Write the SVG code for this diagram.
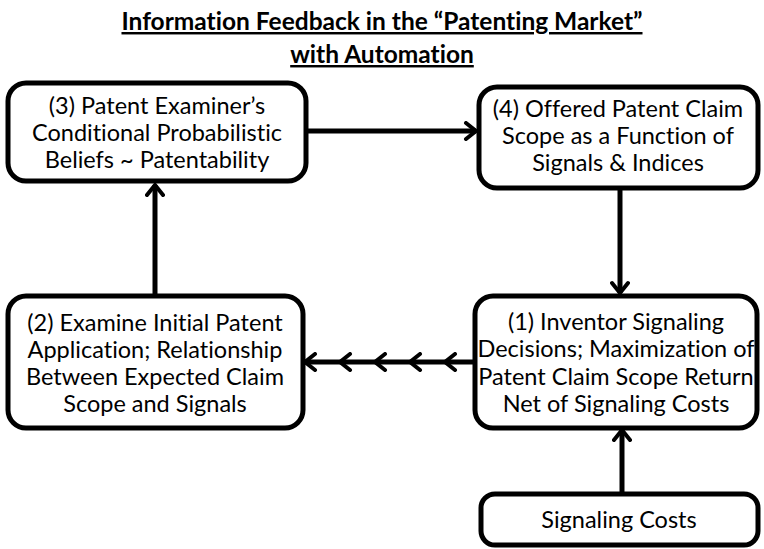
<svg xmlns="http://www.w3.org/2000/svg" width="764" height="549" viewBox="0 0 764 549">
<style>
.box{fill:#fff;stroke:#000;stroke-width:5}
.t{font-family:Lato,"Open Sans","Liberation Sans",sans-serif;font-size:23.5px;fill:#000;text-anchor:middle;font-variant-ligatures:none}
.title{font-family:Lato,"Open Sans","Liberation Sans",sans-serif;font-size:24.5px;font-weight:bold;fill:#000;text-anchor:middle;text-decoration:underline;font-variant-ligatures:none}
.c{fill:none;stroke:#000;stroke-width:5}
</style>
<defs>
<marker id="ah" viewBox="-14 -10 16 20" refX="0" refY="0" markerWidth="16" markerHeight="20" markerUnits="userSpaceOnUse" orient="auto">
<path d="M-10,-8 L0,0 L-10,8" fill="none" stroke="#000" stroke-width="4" stroke-linecap="round"/>
</marker>
</defs>
<rect width="764" height="549" fill="#fff"/>
<g id="title">
<text class="title" x="382" y="30">Information Feedback in the “Patenting Market”</text>
<text class="title" x="382" y="63">with Automation</text>
</g>
<g id="connectors">
<line class="c" x1="307" y1="131" x2="476" y2="131" marker-end="url(#ah)"/>
<line class="c" x1="620" y1="190" x2="620" y2="293" marker-end="url(#ah)"/>
<polyline class="c" points="474,362 445,362 410,362 375,362 340,362 305,362" marker-mid="url(#ah)" marker-end="url(#ah)"/>
<line class="c" x1="155" y1="295" x2="155" y2="185" marker-end="url(#ah)"/>
<line class="c" x1="622" y1="493" x2="622" y2="430" marker-end="url(#ah)"/>
</g>
<g id="n3">
<rect class="box" x="8" y="83" width="298" height="98" rx="18"/>
<text class="t" x="157" y="114">(3) Patent Examiner’s</text>
<text class="t" x="157" y="141">Conditional Probabilistic</text>
<text class="t" x="157" y="168">Beliefs ~ Patentability</text>
</g>
<g id="n4">
<rect class="box" x="479" y="87" width="279" height="101" rx="18"/>
<text class="t" x="618" y="117">(4) Offered Patent Claim</text>
<text class="t" x="618" y="144">Scope as a Function of</text>
<text class="t" x="618" y="171">Signals &amp; Indices</text>
</g>
<g id="n2">
<rect class="box" x="8" y="296" width="295" height="132" rx="18"/>
<text class="t" x="155" y="331">(2) Examine Initial Patent</text>
<text class="t" x="155" y="358">Application; Relationship</text>
<text class="t" x="155" y="385">Between Expected Claim</text>
<text class="t" x="155" y="412">Scope and Signals</text>
</g>
<g id="n1">
<rect class="box" x="475" y="296" width="282" height="132" rx="18"/>
<text class="t" x="616" y="330">(1) Inventor Signaling</text>
<text class="t" x="616" y="357">Decisions; Maximization of</text>
<text class="t" x="616" y="385">Patent Claim Scope Return</text>
<text class="t" x="616" y="412">Net of Signaling Costs</text>
</g>
<g id="n5">
<rect class="box" x="481" y="494" width="277" height="51" rx="14"/>
<text class="t" x="619" y="528">Signaling Costs</text>
</g>
</svg>
